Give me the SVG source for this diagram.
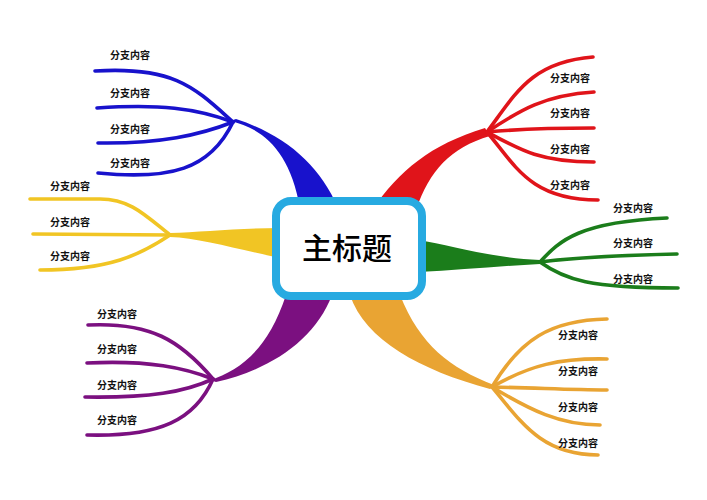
<svg xmlns="http://www.w3.org/2000/svg" width="707" height="500" viewBox="0 0 707 500">
<style>
.lbl{font-family:"Noto Sans CJK SC","Noto Sans",sans-serif;font-size:10px;font-weight:bold;fill:#111}
.title{font-family:"Noto Sans CJK SC","Noto Sans",sans-serif;font-size:30px;font-weight:500;fill:#000}
.br{fill:none;stroke-width:3.6;stroke-linecap:round}
.blue{stroke:#1812cc}.red{stroke:#e0141a}.yel{stroke:#f1c524}.grn{stroke:#1b7d1b}.pur{stroke:#7b1080}.org{stroke:#e9a433}
</style>
<rect width="707" height="500" fill="#fff"/>
<g id="connectors">
  <path d="M230,121 C262,128 290,150 300,208 L338,208 C320,165 285,135 236,119 Z" fill="#1812cc"/>
  <path d="M372,210 C400,170 430,145 485,128 L490,136 C450,148 430,170 416,210 Z" fill="#e0141a"/>
  <path d="M170,233 C200,232 240,228 280,228 L280,258 C240,250 200,238 170,237 Z" fill="#f1c524"/>
  <path d="M418,240 C450,245 490,258 540,260 L540,264 C500,266 460,270 418,272 Z" fill="#1b7d1b"/>
  <path d="M210,380 C240,370 268,350 286,295 L332,295 C315,340 270,370 216,382 Z" fill="#7b1080"/>
  <path d="M350,295 C365,340 420,370 490,389 L494,385 C450,368 420,345 400,295 Z" fill="#e9a433"/>
  <path class="br blue" d="M95,71 C175,66 195,88 233,122"/>
  <path class="br blue" d="M97,108 C160,104 195,108 233,122"/>
  <path class="br blue" d="M98,143 C160,144 200,135 233,122"/>
  <path class="br blue" d="M98,173 C170,180 210,170 233,122"/>
  <path class="br red" d="M487,132 C515,95 530,62 593,57"/>
  <path class="br red" d="M487,132 C520,110 545,95 594,92"/>
  <path class="br red" d="M487,132 C530,128 560,128 594,128"/>
  <path class="br red" d="M487,132 C520,150 540,162 594,162"/>
  <path class="br red" d="M487,132 C515,165 530,200 598,200"/>
  <path class="br yel" d="M30,199 L100,199 C130,199 145,215 170,235"/>
  <path class="br yel" d="M33,234 L170,235"/>
  <path class="br yel" d="M40,270 C110,270 140,255 170,235"/>
  <path class="br grn" d="M540,262 C560,240 580,222 667,218"/>
  <path class="br grn" d="M540,262 C580,257 630,255 677,254"/>
  <path class="br grn" d="M540,262 C565,280 590,288 678,288"/>
  <path class="br pur" d="M88,325 C150,322 180,340 213,379"/>
  <path class="br pur" d="M87,363 C150,360 185,368 213,379"/>
  <path class="br pur" d="M85,397 C150,398 185,392 213,379"/>
  <path class="br pur" d="M87,435 C160,437 195,420 213,379"/>
  <path class="br org" d="M492,387 C520,340 550,320 607,319"/>
  <path class="br org" d="M492,387 C530,365 560,358 607,359"/>
  <path class="br org" d="M492,387 C540,388 570,390 607,390"/>
  <path class="br org" d="M492,387 C530,410 560,425 600,425"/>
  <path class="br org" d="M492,387 C520,420 540,455 598,455"/>
</g>
<g id="main">
  <rect x="276" y="201" width="146" height="95" rx="15" fill="#fff" stroke="#27aae1" stroke-width="8"/>
  <text class="title" x="347" y="259" text-anchor="middle">主标题</text>
</g>
<g id="blue-b1"><text class="lbl" x="110" y="58.5">分支内容</text></g>
<g id="blue-b2"><text class="lbl" x="110" y="96.5">分支内容</text></g>
<g id="blue-b3"><text class="lbl" x="110" y="132.5">分支内容</text></g>
<g id="blue-b4"><text class="lbl" x="110" y="166.5">分支内容</text></g>
<g id="red-b1"><text class="lbl" x="550" y="81.5">分支内容</text></g>
<g id="red-b2"><text class="lbl" x="550" y="116.5">分支内容</text></g>
<g id="red-b3"><text class="lbl" x="550" y="152.5">分支内容</text></g>
<g id="red-b4"><text class="lbl" x="550" y="188.5">分支内容</text></g>
<g id="yellow-b1"><text class="lbl" x="50" y="189.5">分支内容</text></g>
<g id="yellow-b2"><text class="lbl" x="50" y="225.5">分支内容</text></g>
<g id="yellow-b3"><text class="lbl" x="50" y="259.5">分支内容</text></g>
<g id="green-b1"><text class="lbl" x="613" y="211.5">分支内容</text></g>
<g id="green-b2"><text class="lbl" x="613" y="246.5">分支内容</text></g>
<g id="green-b3"><text class="lbl" x="613" y="282.5">分支内容</text></g>
<g id="purple-b1"><text class="lbl" x="97" y="317.5">分支内容</text></g>
<g id="purple-b2"><text class="lbl" x="97" y="352.5">分支内容</text></g>
<g id="purple-b3"><text class="lbl" x="97" y="388.5">分支内容</text></g>
<g id="purple-b4"><text class="lbl" x="97" y="423.5">分支内容</text></g>
<g id="orange-b1"><text class="lbl" x="558" y="338.5">分支内容</text></g>
<g id="orange-b2"><text class="lbl" x="558" y="374.5">分支内容</text></g>
<g id="orange-b3"><text class="lbl" x="558" y="410.5">分支内容</text></g>
<g id="orange-b4"><text class="lbl" x="558" y="446.5">分支内容</text></g>
</svg>
